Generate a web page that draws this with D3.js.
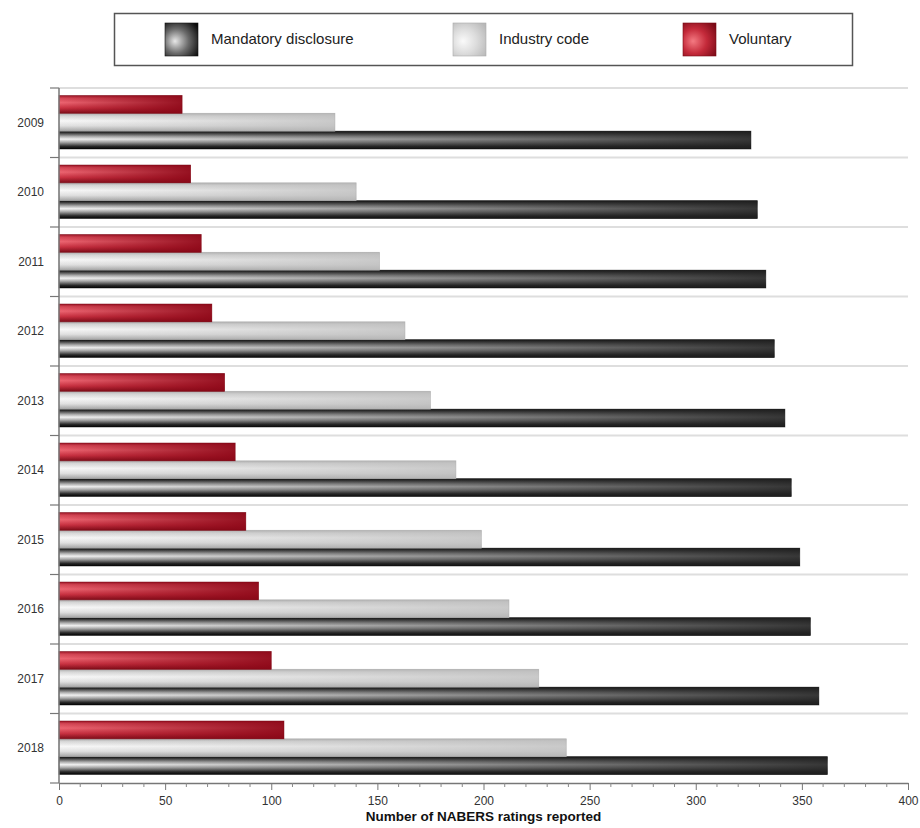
<!DOCTYPE html>
<html>
<head>
<meta charset="utf-8">
<script src="https://cdn.jsdelivr.net/npm/d3@7"></script>
<style>
  body { margin: 0; background: #fff; }
  svg { display: block; font-family: "Liberation Sans", Arial, sans-serif; }
</style>
</head>
<body>
<div id="chart"></div>
<script>
// data
const years = ['2009', '2010', '2011', '2012', '2013', '2014', '2015', '2016', '2017', '2018']
const mandatory = [326, 329, 333, 337, 342, 345, 349, 354, 358, 362]
const industry = [130, 140, 151, 163, 175, 187, 199, 212, 226, 239]
const voluntary = [58, 62, 67, 72, 78, 83, 88, 94, 100, 106]
const seriesNames = ['Mandatory disclosure', 'Industry code', 'Voluntary']
const xTicks = [0, 50, 100, 150, 200, 250, 300, 350, 400]

const width = 920
const height = 828
const margin = { top: 88, right: 12, bottom: 45, left: 59 }

const svg = d3.select('#chart').append('svg')
    .attr('width', width).attr('height', height)

const defs = svg.append('defs')

// look of each series: vertical "tube" shading + a horizontal darkening overlay
const styles = {
    'Mandatory disclosure': {
        id: 'mand',
        tube: [[0, '#050505'], [0.1, '#3a3a3a'], [0.3, '#b0b0b0'], [0.45, '#f4f4f4'], [0.62, '#a8a8a8'], [0.85, '#2a2a2a'], [1, '#000']],
        shade: '#222', shadeFrom: 0, shadeTo: 0.9,
        stroke: '#111',
        swatch: ['#e8e8e8', '#6a6a6a', '#0a0a0a']
    },
    'Industry code': {
        id: 'ind',
        tube: [[0, '#a8a8a8'], [0.15, '#d8d8d8'], [0.42, '#fbfbfb'], [0.7, '#e2e2e2'], [1, '#a0a0a0']],
        shade: '#bdbdbd', shadeFrom: 0.05, shadeTo: 0.8,
        stroke: '#aaa',
        swatch: ['#fafafa', '#dcdcdc', '#b8b8b8']
    },
    'Voluntary': {
        id: 'vol',
        tube: [[0, '#9a1526'], [0.15, '#d84a58'], [0.4, '#f26a76'], [0.7, '#cc3444'], [1, '#7a0c18']],
        shade: '#8c0818', shadeFrom: 0.05, shadeTo: 0.9,
        stroke: '#7a0a16',
        swatch: ['#f47a82', '#c42a3a', '#7a0a16']
    }
}

Object.values(styles).forEach(s => {
    const tube = defs.append('linearGradient').attr('id', 'tube-' + s.id)
        .attr('x1', 0).attr('y1', 0).attr('x2', 0).attr('y2', 1)
    s.tube.forEach(st => tube.append('stop').attr('offset', st[0]).attr('stop-color', st[1]))

    const shade = defs.append('linearGradient').attr('id', 'shade-' + s.id)
        .attr('x1', 0).attr('y1', 0).attr('x2', 1).attr('y2', 0)
    shade.append('stop').attr('offset', 0).attr('stop-color', s.shade).attr('stop-opacity', s.shadeFrom)
    shade.append('stop').attr('offset', 1).attr('stop-color', s.shade).attr('stop-opacity', s.shadeTo)

    const sw = defs.append('radialGradient').attr('id', 'swatch-' + s.id)
        .attr('cx', 0.38).attr('cy', 0.55).attr('r', 0.75).attr('fx', 0.3).attr('fy', 0.55)
    sw.append('stop').attr('offset', 0).attr('stop-color', s.swatch[0])
    sw.append('stop').attr('offset', 0.5).attr('stop-color', s.swatch[1])
    sw.append('stop').attr('offset', 1).attr('stop-color', s.swatch[2])
})

// legend box
const legend = svg.append('g')
legend.append('rect')
    .attr('x', 114.5).attr('y', 13.5).attr('width', 738).attr('height', 52)
    .attr('fill', '#fff').attr('stroke', '#555').attr('stroke-width', 1.5)

const legendX = [165, 453, 683]
seriesNames.forEach((name, i) => {
    const s = styles[name]
    legend.append('rect')
        .attr('x', legendX[i]).attr('y', 23).attr('width', 33).attr('height', 33)
        .attr('fill', `url(#swatch-${s.id})`).attr('stroke', s.stroke).attr('stroke-width', 0.6)
    legend.append('text')
        .attr('x', legendX[i] + 46).attr('y', 40)
        .attr('dominant-baseline', 'middle')
        .attr('font-size', 15).attr('fill', '#222')
        .text(name)
})

// scales
const xScale = d3.scaleLinear()
    .domain([0, 400])
    .range([margin.left, width - margin.right])

const yScale = d3.scaleBand()
    .domain(years)
    .range([margin.top, height - margin.bottom])

const inner = d3.scaleBand()
    .domain(['Voluntary', 'Industry code', 'Mandatory disclosure'])
    .range([7.5, yScale.bandwidth() - 8.5])

// gridlines at band edges
const edges = years.map(y => yScale(y))
svg.append('g').selectAll('line')
    .data(edges).enter()
    .append('line')
    .attr('x1', xScale(0)).attr('x2', xScale(400))
    .attr('y1', d => d).attr('y2', d => d)
    .attr('stroke', '#dedede').attr('stroke-width', 2)

// bars
const rows = years.map((y, i) => ({
    year: y,
    values: [
        { key: 'Mandatory disclosure', value: mandatory[i] },
        { key: 'Industry code', value: industry[i] },
        { key: 'Voluntary', value: voluntary[i] }
    ]
}))

const g = svg.selectAll('.year-group')
    .data(rows).enter()
    .append('g')
    .attr('class', 'year-group')
    .attr('transform', d => `translate(0,${yScale(d.year)})`)

const bar = g.selectAll('.bar')
    .data(d => d.values).enter()
    .append('g').attr('class', 'bar')

bar.append('rect')
    .attr('x', xScale(0))
    .attr('y', d => inner(d.key))
    .attr('width', d => xScale(d.value) - xScale(0))
    .attr('height', inner.bandwidth())
    .attr('fill', d => `url(#tube-${styles[d.key].id})`)

bar.append('rect')
    .attr('x', xScale(0))
    .attr('y', d => inner(d.key))
    .attr('width', d => xScale(d.value) - xScale(0))
    .attr('height', inner.bandwidth())
    .attr('fill', d => `url(#shade-${styles[d.key].id})`)
    .attr('stroke', d => styles[d.key].stroke)
    .attr('stroke-opacity', 0.6)
    .attr('stroke-width', 0.8)

// y axis
const yAxis = svg.append('g')
yAxis.append('line')
    .attr('x1', xScale(0)).attr('x2', xScale(0))
    .attr('y1', margin.top).attr('y2', height - margin.bottom)
    .attr('stroke', '#777').attr('stroke-width', 1.5)
yAxis.selectAll('.ytick')
    .data(edges.concat([height - margin.bottom])).enter()
    .append('line')
    .attr('x1', xScale(0) - 9).attr('x2', xScale(0))
    .attr('y1', d => d).attr('y2', d => d)
    .attr('stroke', '#777').attr('stroke-width', 1.2)
yAxis.selectAll('.ylabel')
    .data(years).enter()
    .append('text')
    .attr('x', 44)
    .attr('y', d => yScale(d) + yScale.bandwidth() / 2 + 1)
    .attr('text-anchor', 'end')
    .attr('dominant-baseline', 'middle')
    .attr('font-size', 12).attr('fill', '#333')
    .text(d => d)

// x axis
const axisY = height - margin.bottom
const xAxis = svg.append('g')
    .attr('transform', `translate(0,${axisY})`)
    .call(d3.axisBottom(xScale).tickValues(xTicks).tickSize(7).tickSizeOuter(0).tickPadding(6).tickFormat(d3.format('d')))
xAxis.select('.domain').attr('stroke', '#777').attr('stroke-width', 1.5)
xAxis.selectAll('.tick line').attr('stroke', '#777')
xAxis.selectAll('.tick text').attr('font-size', 12).attr('fill', '#333')
    .attr('font-family', '"Liberation Sans", Arial, sans-serif')

svg.append('g')
    .attr('transform', `translate(0,${axisY})`)
    .selectAll('line')
    .data(d3.range(0, 401, 10).filter(v => v % 50 !== 0)).enter()
    .append('line')
    .attr('x1', d => xScale(d)).attr('x2', d => xScale(d))
    .attr('y1', 0).attr('y2', 4)
    .attr('stroke', '#888')

svg.append('text')
    .attr('x', (xScale(0) + xScale(400)) / 2)
    .attr('y', 821)
    .attr('text-anchor', 'middle')
    .attr('font-size', 13.5).attr('font-weight', 'bold').attr('fill', '#111')
    .text('Number of NABERS ratings reported')
</script>
</body>
</html>
